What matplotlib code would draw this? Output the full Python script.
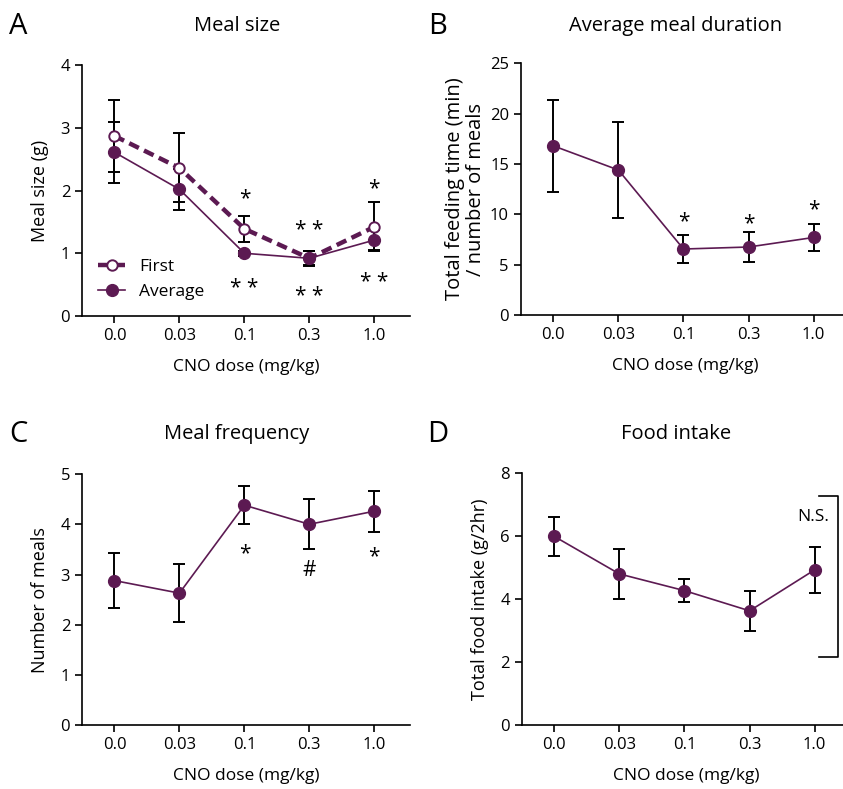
import matplotlib
matplotlib.use('Agg')
import matplotlib.pyplot as plt
import matplotlib.transforms as mtransforms
import numpy as np

plt.rcParams['font.family'] = ['Open Sans', 'DejaVu Sans']

# データ
doses = ['0.0', '0.03', '0.1', '0.3', '1.0']

size_first = [2.87, 2.36, 1.39, 0.92, 1.42]
size_first_err = [0.57, 0.55, 0.21, 0.12, 0.39]
size_avg = [2.61, 2.02, 1.00, 0.92, 1.21]
size_avg_err = [0.49, 0.33, 0.04, 0.11, 0.16]

duration = [16.8, 14.4, 6.55, 6.75, 7.7]
duration_err = [4.55, 4.75, 1.4, 1.47, 1.33]

frequency = [2.88, 2.63, 4.38, 4.0, 4.26]
frequency_err = [0.55, 0.57, 0.38, 0.5, 0.41]

intake = [5.99, 4.8, 4.27, 3.63, 4.93]
intake_err = [0.63, 0.79, 0.37, 0.64, 0.72]

# 有意差の記号 (x位置, y位置, 記号)
sig_size = [(2, 1.96, '*'), (2, 0.53, '**'), (3, 1.45, '**'), (3, 0.40, '**'),
            (4, 2.12, '*'), (4, 0.62, '**')]
sig_duration = [(2, 9.75, '*'), (3, 9.6, '*'), (4, 11.0, '*')]
sig_frequency = [(2, 3.52, '*'), (3, 3.09, '#'), (4, 3.45, '*')]

PURPLE = '#5c1a52'
x = np.arange(len(doses))


def style_axis(ax, ymax, ystep, ylabel, ysize=13, ypad=8):
    ax.set_xlim(-0.5, 4.55)
    ax.set_ylim(0, ymax)
    ax.set_yticks(np.arange(0, ymax + 0.01, ystep))
    ax.set_xticks(x)
    ax.set_xticklabels(doses)
    for s in ['top', 'right']:
        ax.spines[s].set_visible(False)
    for s in ['left', 'bottom']:
        ax.spines[s].set_linewidth(1.2)
    ax.tick_params(width=1.2, length=5, labelsize=12, direction='out')
    ax.set_xlabel('CNO dose (mg/kg)', fontsize=12.5, labelpad=11)
    ax.set_ylabel(ylabel, fontsize=ysize, labelpad=ypad)


def draw_series(ax, y, yerr, **kw):
    ax.errorbar(x, y, yerr=yerr, fmt='none', ecolor='black', elinewidth=1.4,
                capsize=4, capthick=1.4, zorder=2)
    ax.plot(x, y, color=PURPLE, zorder=3, **kw)


def put_sig(ax, sig):
    # アスタリスクは行の上寄りに描かれるので少し下げる
    down = mtransforms.offset_copy(ax.transData, fig=ax.figure, y=-3.8, units='points')
    for xi, yi, s in sig:
        tr = down if '*' in s else ax.transData
        ax.text(xi, yi, s.replace('**', '* *'), ha='center', va='center',
                fontsize=15, transform=tr)


fig = plt.figure(figsize=(8.43, 7.89), dpi=100)

axA = fig.add_axes([0.0973, 0.5995, 0.389, 0.318])
axB = fig.add_axes([0.6177, 0.6008, 0.39, 0.319])
axC = fig.add_axes([0.0973, 0.0807, 0.389, 0.3185])
axD = fig.add_axes([0.6189, 0.0807, 0.39, 0.3198])

# A
draw_series(axA, size_first, size_first_err, lw=3.2, ls=(0, (2.4, 1.3)), marker='o',
            ms=7.5, mfc='white', mec=PURPLE, mew=1.4, label='First')
draw_series(axA, size_avg, size_avg_err, lw=1.2, marker='o', ms=8.5, label='Average')
style_axis(axA, 4, 1, 'Meal size (g)')
put_sig(axA, sig_size)
axA.legend(loc='lower left', bbox_to_anchor=(0.0, 0.0), frameon=False,
           fontsize=12.5, handlelength=1.6, labelspacing=0.55, handletextpad=0.8)

# B
draw_series(axB, duration, duration_err, lw=1.2, marker='o', ms=8.5)
style_axis(axB, 25, 5, 'Total feeding time (min)\n/ number of meals', ysize=14.5, ypad=3)
axB.yaxis.label.set_linespacing(1.05)
put_sig(axB, sig_duration)

# C
draw_series(axC, frequency, frequency_err, lw=1.2, marker='o', ms=8.5)
style_axis(axC, 5, 1, 'Number of meals')
put_sig(axC, sig_frequency)

# D
draw_series(axD, intake, intake_err, lw=1.2, marker='o', ms=8.5)
style_axis(axD, 8, 2, 'Total food intake (g/2hr)')
axD.plot([4.07, 4.36, 4.36, 4.07], [7.27, 7.27, 2.17, 2.17], color='black',
         lw=1.2, clip_on=False)
axD.text(4.22, 6.6, 'N.S.', ha='right', va='center', fontsize=12.5)

# タイトルとパネル文字
titles = [('A', 'Meal size', 18, 237, 26), ('B', 'Average meal duration', 438, 676, 26),
          ('C', 'Meal frequency', 18, 237, 434), ('D', 'Food intake', 438, 676, 434)]
W, H = 843, 789
for letter, title, lx, tx, ty in titles:
    fig.text(lx / W, 1 - ty / H, letter, fontsize=21, ha='center', va='center')
    fig.text(tx / W, 1 - ty / H, title, fontsize=14.5, ha='center', va='center')

fig.savefig('out.png', dpi=100)
plt.close()
